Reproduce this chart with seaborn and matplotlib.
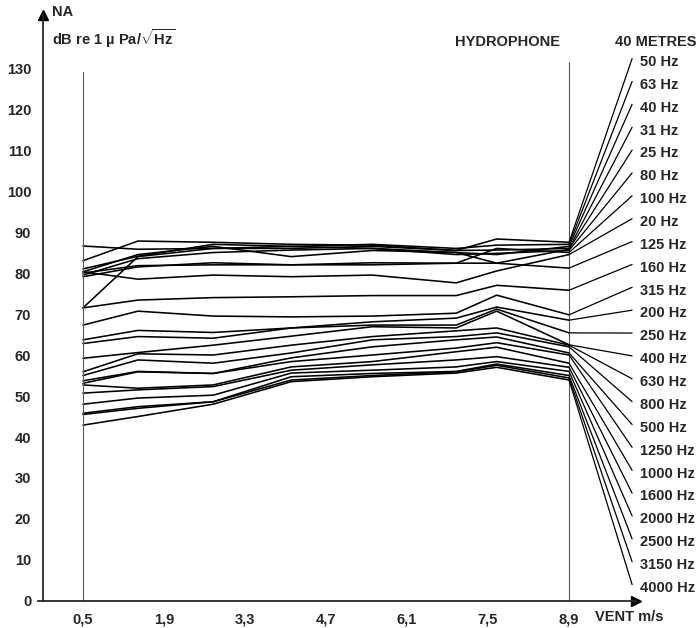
import numpy as np
import pandas as pd
import seaborn as sns
import matplotlib
matplotlib.use('Agg')
import matplotlib.pyplot as plt

# wind speed at the measurement points (m/s)
vent = [0.5, 1.45, 2.75, 4.1, 5.5, 6.95, 7.65, 8.9]
xTicks = [0.5, 1.9, 3.3, 4.7, 6.1, 7.5, 8.9]
xTickLabels = ['0,5', '1,9', '3,3', '4,7', '6,1', '7,5', '8,9']
yTicks = list(range(0, 131, 10))

freqLabels = ['50 Hz', '63 Hz', '40 Hz', '31 Hz', '25 Hz', '80 Hz', '100 Hz', '20 Hz',
              '125 Hz', '160 Hz', '315 Hz', '200 Hz', '250 Hz', '400 Hz', '630 Hz', '800 Hz',
              '500 Hz', '1250 Hz', '1000 Hz', '1600 Hz', '2000 Hz', '2500 Hz', '3150 Hz', '4000 Hz']

# noise level NA (dB re 1 uPa/sqrt(Hz)) per band
na50 = [83.0, 87.8, 87.5, 87.0, 86.8, 85.5, 88.3, 87.5]
na63 = [86.6, 85.8, 86.0, 86.5, 87.0, 86.0, 86.8, 87.0]
na40 = [81.0, 84.1, 87.0, 86.5, 86.0, 85.0, 84.5, 86.5]
na31 = [71.5, 84.0, 86.0, 86.0, 86.5, 85.5, 85.6, 86.0]
na25 = [80.3, 84.5, 86.5, 84.0, 85.5, 85.0, 82.4, 85.8]
na80 = [79.5, 83.5, 85.0, 85.6, 86.0, 84.5, 84.8, 85.5]
na100 = [79.1, 81.5, 82.5, 82.0, 82.5, 82.4, 86.0, 85.0]
na20 = [80.3, 78.5, 79.5, 79.1, 79.5, 77.6, 80.5, 84.5]
na125 = [80.0, 81.8, 82.0, 82.0, 82.0, 82.4, 82.4, 81.2]
na160 = [71.5, 73.4, 74.0, 74.2, 74.5, 74.5, 77.0, 75.8]
na315 = [67.3, 70.7, 69.5, 69.3, 69.5, 70.2, 74.6, 69.8]
na200 = [63.7, 66.0, 65.5, 66.6, 68.1, 69.0, 71.7, 68.5]
na250 = [62.8, 64.5, 64.1, 66.6, 67.3, 67.3, 71.2, 65.4]
na400 = [59.2, 60.6, 62.4, 64.6, 66.9, 66.6, 70.7, 62.5]
na630 = [55.9, 60.3, 60.0, 62.4, 64.5, 65.9, 66.6, 62.4]
na800 = [55.0, 58.8, 58.0, 60.5, 63.7, 64.5, 65.4, 62.0]
na500 = [53.7, 56.0, 55.5, 59.3, 62.0, 63.7, 64.4, 60.5]
na1250 = [53.1, 55.9, 55.5, 58.4, 60.0, 61.7, 63.0, 60.0]
na1000 = [52.7, 51.9, 52.7, 57.1, 58.4, 60.8, 61.9, 58.0]
na1600 = [50.7, 51.5, 52.3, 56.3, 57.6, 58.8, 59.6, 57.0]
na2000 = [48.0, 49.5, 50.2, 55.6, 56.3, 57.1, 58.4, 56.0]
na2500 = [45.8, 47.4, 48.6, 54.7, 55.5, 56.0, 57.8, 55.0]
na3150 = [45.5, 47.0, 48.6, 53.9, 55.0, 55.9, 57.5, 54.4]
na4000 = [42.9, 45.0, 48.0, 53.5, 54.7, 55.6, 57.0, 53.9]

seriesList = [na50, na63, na40, na31, na25, na80, na100, na20, na125, na160, na315, na200,
              na250, na400, na630, na800, na500, na1250, na1000, na1600, na2000, na2500,
              na3150, na4000]

rows = []
for label, vals in zip(freqLabels, seriesList):
    for v, n in zip(vent, vals):
        rows.append({'freq': label, 'vent': v, 'na': n})
dfNA = pd.DataFrame(rows)

sns.set_style('white')
plt.rcParams['font.family'] = ['Liberation Sans', 'DejaVu Sans']
plt.rcParams['mathtext.fontset'] = 'custom'
plt.rcParams['mathtext.rm'] = 'Liberation Sans:bold'
plt.rcParams['mathtext.bf'] = 'Liberation Sans:bold'

fig = plt.figure(figsize=(6.99, 6.28), dpi=100)
ax = fig.add_axes([0, 0, 1, 1])
ax.set_xlim(-0.934, 11.146)
ax.set_ylim(-6.59, 146.6)

sns.lineplot(data=dfNA, x='vent', y='na', units='freq', estimator=None,
             color='black', lw=1.15, sort=False, ax=ax, legend=False)

# reference verticals at first and last wind speed
ax.plot([0.5, 0.5], [0, 129], color='0.35', lw=0.8)
ax.plot([8.9, 8.9], [0, 131.5], color='0.35', lw=0.8)

# leader lines to the band labels
labelX = 10.13
labelY = np.linspace(131.5, 3.2, len(freqLabels))
for vals, ly, label in zip(seriesList, labelY, freqLabels):
    ax.plot([vent[-1], 9.99], [vals[-1], ly + 0.8], color='black', lw=0.9)
    ax.text(labelX, ly, label, ha='left', va='center', fontsize=10.5, fontweight='bold')

# axes with arrows
for side in ['top', 'right']:
    ax.spines[side].set_visible(False)
ax.spines['left'].set_position(('data', -0.19))
ax.spines['left'].set_bounds(0, 143)
ax.spines['bottom'].set_position(('data', 0))
ax.spines['bottom'].set_bounds(-0.28, 10.05)
ax.spines['left'].set_linewidth(1.3)
ax.spines['bottom'].set_linewidth(1.3)
ax.plot(-0.19, 143, marker='^', ms=7, color='black', clip_on=False)
ax.plot(10.05, 0, marker='>', ms=7, color='black', clip_on=False)

ax.set_xticks(xTicks)
ax.set_xticklabels(xTickLabels)
ax.set_yticks(yTicks)
ax.set_yticklabels([str(t) for t in yTicks])
ax.tick_params(axis='both', direction='inout', length=7, width=1.1, labelsize=10.5)
ax.tick_params(axis='y', pad=5)
ax.tick_params(axis='x', pad=5)
for lab in ax.get_xticklabels() + ax.get_yticklabels():
    lab.set_fontweight('bold')
ax.set_xlabel('')
ax.set_ylabel('')

ax.text(-0.035, 143.7, 'NA', ha='left', va='center', fontsize=10.5, fontweight='bold')
ax.text(-0.035, 137.3, r'dB re 1 µ Pa/$\sqrt{\mathrm{Hz}}$', ha='left', va='center',
        fontsize=10.5, fontweight='bold')
ax.text(6.93, 136.4, 'HYDROPHONE', ha='left', va='center', fontsize=10.5, fontweight='bold')
ax.text(9.69, 136.4, '40 METRES', ha='left', va='center', fontsize=10.5, fontweight='bold')
ax.text(9.35, -3.9, 'VENT m/s', ha='left', va='center', fontsize=10.5, fontweight='bold')

plt.savefig('out.png', dpi=100)
